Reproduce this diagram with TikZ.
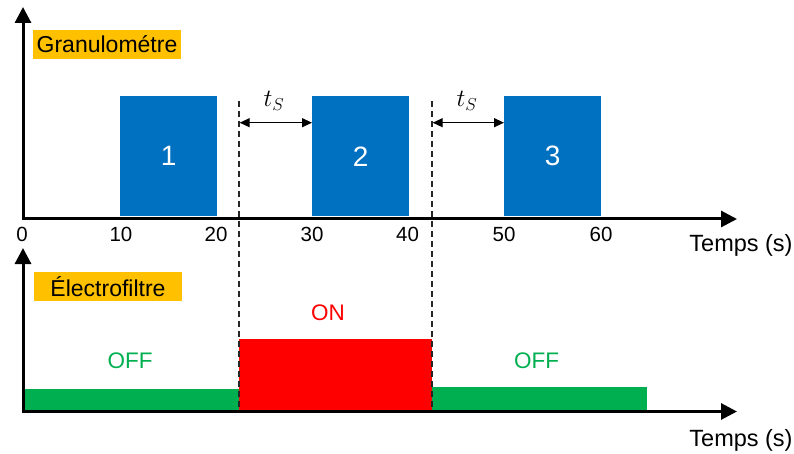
\documentclass[tikz,border=0pt]{standalone}
\usepackage{fontspec}
\setmainfont{Liberation Sans}
\usetikzlibrary{arrows.meta}
\definecolor{cblue}{HTML}{0070C0}
\definecolor{cred}{HTML}{FF0000}
\definecolor{cgreen}{HTML}{00B050}
\definecolor{corange}{HTML}{FFC000}
\begin{document}
\begin{tikzpicture}[x=1pt,y=-1pt,
  axis/.style={line width=3pt, line join=miter, {Triangle[length=16pt,width=16pt]}-{Triangle[length=16pt,width=16pt]}},
  bluebox/.style={fill=cblue, draw=none, minimum width=97pt, minimum height=120pt, inner sep=0pt, text=white, font=\fontsize{28}{32}\selectfont},
  tag/.style={fill=corange, minimum width=148pt, minimum height=29pt, inner sep=0pt, font=\fontsize{23}{26}\selectfont},
  ticklbl/.style={inner sep=0pt, font=\fontsize{20.5}{24}\selectfont},
  axlbl/.style={inner sep=0pt, anchor=base, font=\fontsize{23.5}{26}\selectfont},
  statelbl/.style={inner sep=0pt, font=\fontsize{22.5}{26}\selectfont},
  sep/.style={line width=1.4pt, black!85, dash pattern=on 6pt off 4pt},
  dim/.style={line width=1.3pt, {Triangle[length=10pt,width=9pt]}-{Triangle[length=10pt,width=9pt]}},
  tslbl/.style={inner sep=0pt, font=\fontsize{26}{30}\selectfont}
]
\useasboundingbox (0,0) rectangle (794,454);

% ---------- top chart ----------
\node[bluebox, anchor=south west] (b1) at (120,216.5) {1};
\node[bluebox, anchor=south west] (b2) at (312,216.5) {2};
\node[bluebox, anchor=south west] (b3) at (504,216.5) {3};

\coordinate (y1) at (23,7);
\coordinate (o1) at (23,219);
\coordinate (x1) at (737,219);
\draw[axis] (y1) -- (o1) -- (x1);

\node[tag] (g) at (107,44.3) {Granulométre};

\node[ticklbl] (t0) at (22,234.5) {0};
\node[ticklbl] (t10) at (121,234.5) {10};
\node[ticklbl] (t20) at (216,234.5) {20};
\node[ticklbl] (t30) at (312,234.5) {30};
\node[ticklbl] (t40) at (407.5,234.5) {40};
\node[ticklbl] (t50) at (504,234.5) {50};
\node[ticklbl] (t60) at (601,234.5) {60};
\node[axlbl] (xl1) at (741,251.5) {Temps (s)};

% ---------- bottom chart ----------
\coordinate (o2) at (23,411.5);
\fill[cgreen] (23,389) rectangle (239,411);
\fill[cred] (239,339) rectangle (432,411);
\fill[cgreen] (432,387) rectangle (647,411);

\coordinate (y2) at (23,248);
\coordinate (x2) at (737,411.5);
\draw[axis] (y2) -- (o2) -- (x2);

\node[tag] (e) at (108,286.3) {Électrofiltre};

\node[statelbl, text=cgreen] (off1) at (130,360.5) {OFF};
\node[statelbl, text=cred] (on) at (328,313) {ON};
\node[statelbl, text=cgreen] (off2) at (536.5,361) {OFF};

\node[axlbl] (xl2) at (741,446.5) {Temps (s)};

% ---------- separators and durations ----------
\coordinate (d1t) at (239,101);
\coordinate (d1b) at (239,410);
\coordinate (d2t) at (432,101);
\coordinate (d2b) at (432,410);
\draw[sep] (d1t) -- (d1b);
\draw[sep] (d2t) -- (d2b);

\coordinate (a1s) at (239.7,122.7);
\coordinate (a2s) at (432.7,122.7);
\draw[dim] (a1s) -- (a1s -| b2.west);
\draw[dim] (a2s) -- (a2s -| b3.west);

\node[tslbl] (ts1) at (274,101) {$t_S$};
\node[tslbl] (ts2) at (467,101) {$t_S$};
\end{tikzpicture}
\end{document}
